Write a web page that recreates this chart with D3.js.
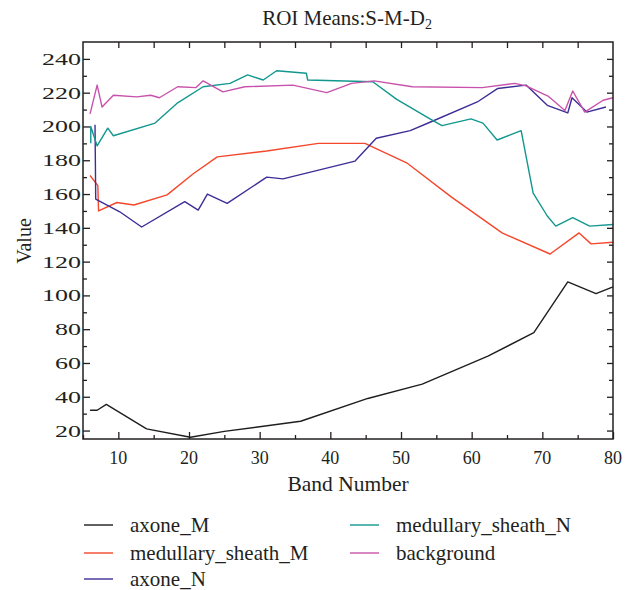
<!DOCTYPE html>
<html>
<head>
    <style>
        body { margin: 0; background: #fff; }
        svg text { font-family: "Liberation Serif", "Times New Roman", serif; fill: #231f20; }
        .tick line { stroke: #231f20; stroke-width: 1.3; }
        .frame { fill: none; stroke: #231f20; stroke-width: 1.5; }
        .series { fill: none; stroke-width: 1.4; stroke-linejoin: round; }
    </style>
    <script src="https://d3js.org/d3.v7.min.js"></script>
</head>
<body>
    <script>
        // ROI means, one pair of arrays per series (band number, value)
        var seriesNames = ["axone_M", "medullary_sheath_M", "axone_N", "medullary_sheath_N", "background"];
        var seriesColors = ["#1e1e1e", "#f4472b", "#3c2e96", "#12978e", "#c852ab"];

        var axoneM_band = [6, 7, 8.3, 14, 20.2, 25, 35.8, 45.3, 53, 62.3, 68.8, 73.6, 77.6, 80];
        var axoneM_val  = [32, 32, 35.5, 21, 16, 19.5, 25.5, 39, 47.5, 64, 78, 108, 101, 105];

        var medM_band = [6, 7.1, 7.2, 9.8, 12.2, 16.9, 20.6, 24, 31, 38.3, 44.9, 50.8, 57.2, 64.3, 71.1, 75.2, 76.9, 80];
        var medM_val  = [171, 165, 150, 155, 153.5, 159.5, 172, 182, 185.5, 190, 190, 178.5, 158, 137, 124.5, 137, 130.5, 131.5];

        var axoneN_band = [6.7, 6.8, 10.2, 13.3, 19.4, 21.3, 22.6, 25.4, 31, 33.3, 43.5, 46.5, 51.3, 54.1, 60.8, 63.7, 67.7, 70.7, 73.6, 74.2, 76.3, 79];
        var axoneN_val  = [201, 157, 149.5, 140.5, 155.5, 150.5, 160, 154.5, 170, 169, 179.5, 193, 197.5, 202.5, 214.5, 222.5, 224.5, 212.5, 208, 217, 208.5, 211.5];

        var medN_band = [6.1, 6.1, 7, 8.5, 9.3, 15.2, 18.4, 22, 25.8, 28.3, 30.5, 32.4, 36.6, 36.8, 46, 49.4, 54.1, 55.8, 59.9, 61.6, 63.6, 67, 68.7, 70.7, 71.9, 74.3, 76.7, 80];
        var medN_val  = [190, 200, 188.5, 199, 194.5, 202, 214, 223.5, 225.5, 230.5, 227.5, 233, 231.5, 227.5, 226.5, 216, 204.5, 200.5, 204.5, 202, 192, 197.5, 160.5, 147, 141, 146, 141, 142];

        var bg_band = [6, 7, 7.7, 9.3, 12.6, 14.6, 15.8, 18.4, 21, 22, 24.8, 27.9, 34.7, 39.5, 43, 46.2, 51.6, 61.5, 66.1, 67.7, 70.8, 73.2, 74.3, 76, 78.6, 80];
        var bg_val  = [207.5, 224.5, 211.5, 218.5, 217.5, 218.5, 217, 223.5, 223, 227, 220.5, 223.5, 224.5, 220, 225.5, 227, 223.5, 223, 225.5, 224, 218, 209.5, 221, 208.5, 215.5, 217];

        var xTicks = [10, 20, 30, 40, 50, 60, 70, 80];
        var yTicks = [20, 40, 60, 80, 100, 120, 140, 160, 180, 200, 220, 240];

        var bands = [axoneM_band, medM_band, axoneN_band, medN_band, bg_band];
        var vals = [axoneM_val, medM_val, axoneN_val, medN_val, bg_val];

        var width = 633, height = 590,
            margin = {top: 42, right: 20, bottom: 151, left: 83},
            w = width - margin.left - margin.right,
            h = height - margin.top - margin.bottom;

        var svg = d3.select("body").append("svg")
                    .attr("width", width).attr("height", height);

        var x = d3.scaleLinear().domain([5, 80]).range([0, w]);
        var y = d3.scaleLinear().domain([15, 250]).range([h, 0]);

        var g = svg.append("g")
                   .attr("transform", `translate(${margin.left},${margin.top})`);

        var minorX = d3.range(5, 81, 5).filter(function(d) { return d % 10 !== 0; });
        var minorY = d3.range(20, 250, 10).filter(function(d) { return d % 20 !== 0; });

        // ticks point inwards on all four sides
        g.append("g").attr("transform", `translate(0,${h})`)
         .call(d3.axisBottom(x).tickValues(xTicks).tickSize(-7).tickFormat(""));
        g.append("g").attr("transform", `translate(0,${h})`)
         .call(d3.axisBottom(x).tickValues(minorX).tickSize(-4).tickFormat(""));
        g.append("g")
         .call(d3.axisTop(x).tickValues(d3.range(10, 80, 5)).tickSize(-6).tickFormat(""));
        g.append("g")
         .call(d3.axisLeft(y).tickValues(yTicks).tickSize(-7).tickFormat(""));
        g.append("g")
         .call(d3.axisLeft(y).tickValues(minorY).tickSize(-4).tickFormat(""));
        g.append("g").attr("transform", `translate(${w},0)`)
         .call(d3.axisRight(y).tickValues(yTicks).tickSize(-6).tickFormat(""));
        g.append("g").attr("transform", `translate(${w},0)`)
         .call(d3.axisRight(y).tickValues(minorY).tickSize(-4).tickFormat(""));
        g.selectAll(".domain").remove();

        // tick labels
        g.selectAll(".xlab").data(xTicks).enter().append("text")
         .attr("x", function(d) { return x(d); })
         .attr("y", h + 25)
         .attr("text-anchor", "middle")
         .style("font-size", "18px")
         .text(function(d) { return d; });

        g.selectAll(".ylab").data(yTicks).enter().append("text")
         .attr("x", -2)
         .attr("y", function(d) { return y(d); })
         .attr("dy", "0.35em")
         .attr("text-anchor", "end")
         .attr("textLength", function(d) { return String(d).length * 13; })
         .attr("lengthAdjust", "spacingAndGlyphs")
         .style("font-size", "17px")
         .text(function(d) { return d; });

        var line = d3.line()
                     .x(function(d) { return x(d[0]); })
                     .y(function(d) { return y(d[1]); });

        seriesNames.forEach(function(name, i) {
            var pts = d3.zip(bands[i], vals[i]);
            g.append("path")
             .attr("class", "series")
             .attr("d", line(pts))
             .attr("stroke", seriesColors[i]);
        });

        g.append("rect").attr("class", "frame")
         .attr("width", w).attr("height", h);

        // titles
        var title = svg.append("text")
                       .attr("x", 347).attr("y", 25)
                       .attr("text-anchor", "middle")
                       .style("font-size", "21px");
        title.append("tspan").text("ROI Means:S-M-D");
        title.append("tspan").attr("dy", 4).style("font-size", "14px").text("2");

        svg.append("text")
           .attr("x", margin.left + w / 2).attr("y", 491)
           .attr("text-anchor", "middle")
           .style("font-size", "21.5px")
           .text("Band Number");

        svg.append("text")
           .attr("transform", "translate(31,241) rotate(-90)")
           .attr("text-anchor", "middle")
           .style("font-size", "20px")
           .text("Value");

        // legend, two columns
        var legendPos = [[84, 525], [84, 553], [84, 579], [350, 525], [350, 553]];
        var legend = svg.selectAll(".legend").data(seriesNames).enter().append("g")
                        .attr("transform", function(d, i) { return `translate(${legendPos[i][0]},${legendPos[i][1]})`; });
        legend.append("line")
              .attr("x1", 0).attr("x2", 29)
              .attr("stroke", function(d, i) { return seriesColors[i]; })
              .attr("stroke-width", 1.4);
        legend.append("text")
              .attr("x", 46).attr("dy", "0.32em")
              .style("font-size", "21px")
              .text(function(d) { return d; });
    </script>
</body>
</html>
